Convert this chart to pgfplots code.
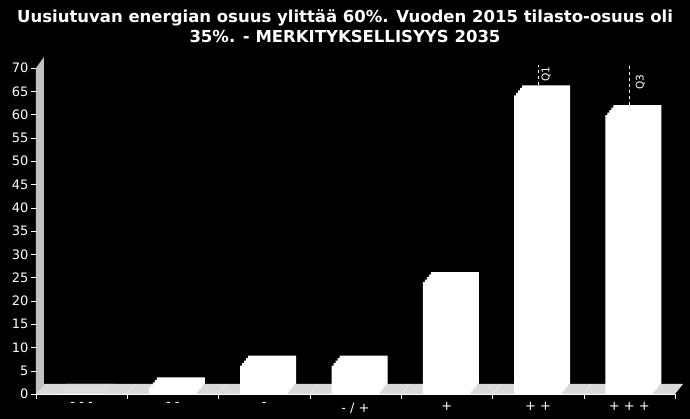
\documentclass[border=0pt]{standalone}
\usepackage{pgfplots}
\pgfplotsset{compat=1.18}
\usepackage{fontspec}
\setmainfont{DejaVu Sans}
\definecolor{floorc}{HTML}{DADADA}
\definecolor{wallc}{HTML}{C2C2C2}
\begin{document}
\begin{tikzpicture}[x=1pt,y=1pt]
\useasboundingbox (0,0) rectangle (690,419);
\fill[black] (0,0) rectangle (690,419);
\node[white, align=center, font=\bfseries\fontsize{16.5}{20}\selectfont] at (345,393)
  {Uusiutuvan energian osuus ylittää 60\%. Vuoden 2015 tilasto-osuus oli\\35\%. - MERKITYKSELLISYYS 2035};
\begin{axis}[
  at={(36pt,25pt)}, anchor=south west,
  scale only axis, width=639pt, height=326pt,
  xmin=-0.5, xmax=6.5, ymin=0, ymax=70,
  clip=false,
  axis lines=left,
  axis line style={-, white},
  tick style={white},
  tick align=outside,
  major tick length=5pt,
  xtick={-0.5,0.5,...,6.5},
  x tick label as interval,
  xticklabels={- - -,- -,-,- / +,+,+ +,+ + +},
  ytick={0,5,...,70},
  tick label style={white, font=\fontsize{13}{15}\selectfont},
  yticklabel style={xshift=1pt},
  /pgf/number format/assume math mode=true,
  ybar, bar width=48pt, bar shift=0pt,
]
% left wall and floor (decoration)
\fill[wallc] (axis cs:-0.5,0) -- (axis cs:-0.5,70) -- ([shift={(8pt,11pt)}]axis cs:-0.5,70) -- ([shift={(8pt,10pt)}]axis cs:-0.5,0) -- cycle;
\fill[floorc] (axis cs:-0.5,0) -- (axis cs:6.5,0) -- ([shift={(8pt,10pt)}]axis cs:6.5,0) -- ([shift={(8pt,10pt)}]axis cs:-0.5,0) -- cycle;
\pgfplotsinvokeforeach{0.5,1.5,2.5,3.5,4.5,5.5}{
  \draw[white!85!gray, line width=0.6pt] (axis cs:#1,0) -- ([shift={(8pt,10pt)}]axis cs:#1,0);
}
% 3D bars: back copies then front
\addplot[fill=white, draw=none, xshift=8pt, yshift=10pt] coordinates {(0,0) (1,1.4) (2,6.1) (3,6.1) (4,24.0) (5,64.1) (6,59.9)};
\addplot[fill=white, draw=none, xshift=6pt, yshift=7.5pt] coordinates {(0,0) (1,1.4) (2,6.1) (3,6.1) (4,24.0) (5,64.1) (6,59.9)};
\addplot[fill=white, draw=none, xshift=4pt, yshift=5pt] coordinates {(0,0) (1,1.4) (2,6.1) (3,6.1) (4,24.0) (5,64.1) (6,59.9)};
\addplot[fill=white, draw=none, xshift=2pt, yshift=2.5pt] coordinates {(0,0) (1,1.4) (2,6.1) (3,6.1) (4,24.0) (5,64.1) (6,59.9)};
\addplot[fill=white, draw=none] coordinates {(0,0) (1,1.4) (2,6.1) (3,6.1) (4,24.0) (5,64.1) (6,59.9)};
% quartile markers
\addplot[sharp plot, white, dashed, yshift=10pt] coordinates {(5,64.1) (5,68.5)}
  node[pos=0, rotate=90, anchor=north west, white, font=\fontsize{10.5}{12}\selectfont, yshift=0pt] {Q1};
\addplot[sharp plot, white, dashed, yshift=10pt] coordinates {(6,59.9) (6,68.5)}
  node[pos=0.3, rotate=90, anchor=north west, white, font=\fontsize{10.5}{12}\selectfont, yshift=-3pt] {Q3};
\end{axis}
\end{tikzpicture}
\end{document}
